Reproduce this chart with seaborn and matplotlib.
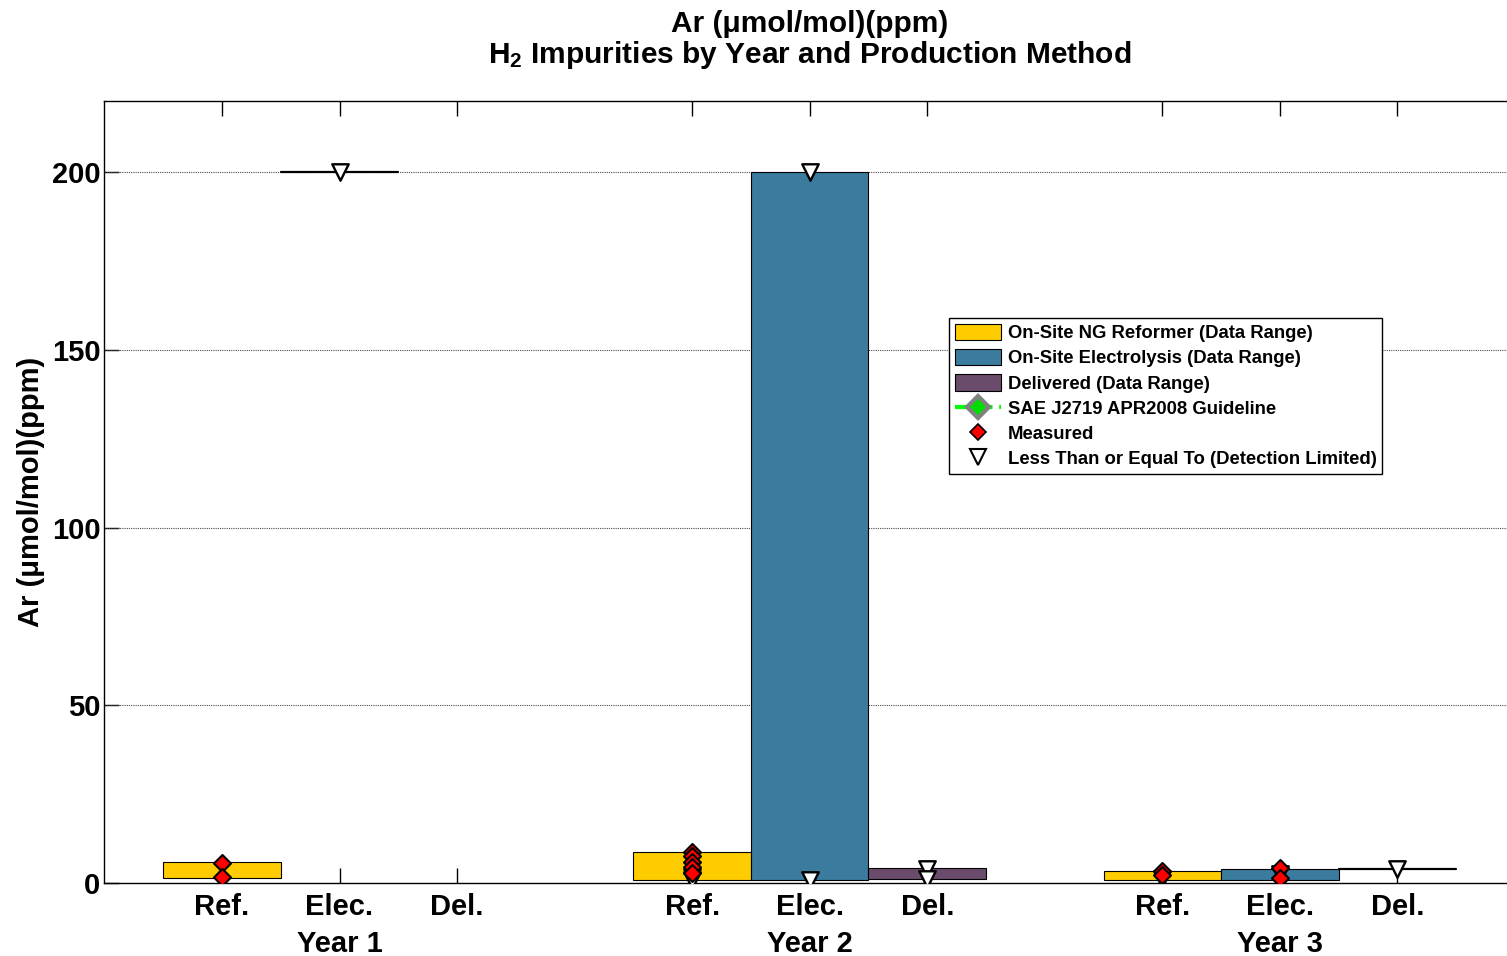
import numpy as np
import pandas as pd
import seaborn as sns
import matplotlib.pyplot as plt
from matplotlib.patches import Patch
from matplotlib.lines import Line2D
import matplotlib.transforms as mtrans

# categories
years = ["Year 1", "Year 2", "Year 3"]
methods = ["Ref.", "Elec.", "Del."]
year_pos = [2, 6, 10]
cat_pos = [1, 2, 3, 5, 6, 7, 9, 10, 11]
cat_method = ["Ref.", "Elec.", "Del."] * 3

# data range bars (low / high), nan = no data
range_low = [1.5, 200.0, np.nan, 0.9, 0.8, 1.1, 0.9, 0.9, 4.0]
range_high = [6.0, 200.0, np.nan, 8.6, 200.0, 4.1, 3.4, 4.0, 4.0]

# measured points
meas_x = [1, 1, 5, 5, 5, 5, 5, 9, 9, 10, 10]
meas_val = [5.6, 1.6, 8.8, 7.5, 6.0, 4.6, 2.8, 3.3, 2.3, 4.3, 1.4]

# detection limited points (<=)
det_x = [2, 5, 5, 6, 6, 7, 7, 9, 10, 11]
det_val = [200.0, 1.6, 0.9, 200.0, 0.8, 3.8, 1.0, 1.2, 2.6, 4.0]

colors = {"Ref.": "#FFCC00", "Elec.": "#3A7B9E", "Del.": "#6B4B6B"}
legend_names = ["On-Site NG Reformer (Data Range)",
                "On-Site Electrolysis (Data Range)",
                "Delivered (Data Range)"]

sns.set_style("white")
plt.rcParams['font.family'] = ['Liberation Sans', 'DejaVu Sans']
plt.rcParams['font.weight'] = 'bold'
plt.rcParams['text.color'] = 'black'
plt.rcParams['axes.labelcolor'] = 'black'
plt.rcParams['xtick.color'] = 'black'
plt.rcParams['ytick.color'] = 'black'
plt.rcParams['mathtext.fontset'] = 'custom'
plt.rcParams['mathtext.rm'] = 'Liberation Sans:bold'
plt.rcParams['mathtext.bf'] = 'Liberation Sans:bold'

fig = plt.figure(figsize=(15.07, 9.56), dpi=100)
ax = fig.add_axes([0.0693, 0.0764, 0.936, 0.818])

# floating range bars
for x, lo, hi, m in zip(cat_pos, range_low, range_high, cat_method):
    if np.isnan(lo):
        continue
    if hi - lo < 1e-9:
        ax.plot([x - 0.5, x + 0.5], [lo, lo], color="black", lw=1.6, zorder=3)
    else:
        ax.bar(x, hi - lo, bottom=lo, width=1.0, color=colors[m],
               edgecolor="black", linewidth=0.8, zorder=2)

det_df = pd.DataFrame({"x": det_x, "val": det_val})
meas_df = pd.DataFrame({"x": meas_x, "val": meas_val})
sns.scatterplot(data=det_df, x="x", y="val", marker="v", s=140,
                color="white", edgecolor="black", linewidth=1.7, zorder=4, ax=ax)
sns.scatterplot(data=meas_df, x="x", y="val", marker="D", s=75,
                color="red", edgecolor="black", linewidth=1.5, zorder=5, ax=ax)

ax.set_xlim(0, 12)
ax.set_ylim(0, 220)
ax.set_yticks([0, 50, 100, 150, 200])
ax.set_xticks(cat_pos)
ax.set_xticklabels(cat_method)
ax.set_xlabel("")
ax.set_ylabel("Ar (\u03bcmol/mol)(ppm)", fontsize=21, fontweight="bold", labelpad=5)
for g in [50, 100, 150, 200]:
    ax.axhline(g, color="0.3", lw=0.8, ls=(0, (1, 1)), zorder=1)

ax.tick_params(axis="both", direction="in", length=11, width=1,
               top=True, bottom=True, left=True, right=False, labelsize=21)
ax.tick_params(axis="x", pad=7)
ax.tick_params(axis="y", pad=3)
for lab in ax.get_xticklabels() + ax.get_yticklabels():
    lab.set_fontweight("bold")
for sp in ax.spines.values():
    sp.set_linewidth(1.0)
    sp.set_color("black")

trans = mtrans.blended_transform_factory(ax.transData, ax.transAxes)
for x, y in zip(year_pos, years):
    ax.text(x, -0.078, y, transform=trans, ha="center", va="center",
            fontsize=21, fontweight="bold")

ax.set_title("Ar (\u03bcmol/mol)(ppm)\n$\\mathrm{H_2}$ Impurities by Year and Production Method",
             fontsize=21.5, fontweight="bold", pad=27, linespacing=1.05)

handles = [Patch(facecolor=colors[m], edgecolor="black", linewidth=0.8) for m in methods]
handles.append(Line2D([], [], color="#00FF00", ls="--", lw=3, marker="D",
                      markersize=11, markerfacecolor="#00DD00",
                      markeredgecolor="gray", markeredgewidth=3))
handles.append(Line2D([], [], ls="none", marker="D", markersize=8,
                      markerfacecolor="red", markeredgecolor="black", markeredgewidth=1.2))
handles.append(Line2D([], [], ls="none", marker="v", markersize=11,
                      markerfacecolor="white", markeredgecolor="black", markeredgewidth=1.5))
labels = legend_names + ["SAE J2719 APR2008 Guideline", "Measured",
                         "Less Than or Equal To (Detection Limited)"]
leg = ax.legend(handles, labels, loc="upper left", bbox_to_anchor=(0.599, 0.7225),
                borderaxespad=0, fancybox=False, edgecolor="black", framealpha=1,
                prop={"size": 13.3, "weight": "bold"}, handlelength=2.5,
                handleheight=1.0, labelspacing=0.36, handletextpad=0.35,
                borderpad=0.3)
leg.get_frame().set_linewidth(1.0)

fig.savefig("out.png", dpi=100)
